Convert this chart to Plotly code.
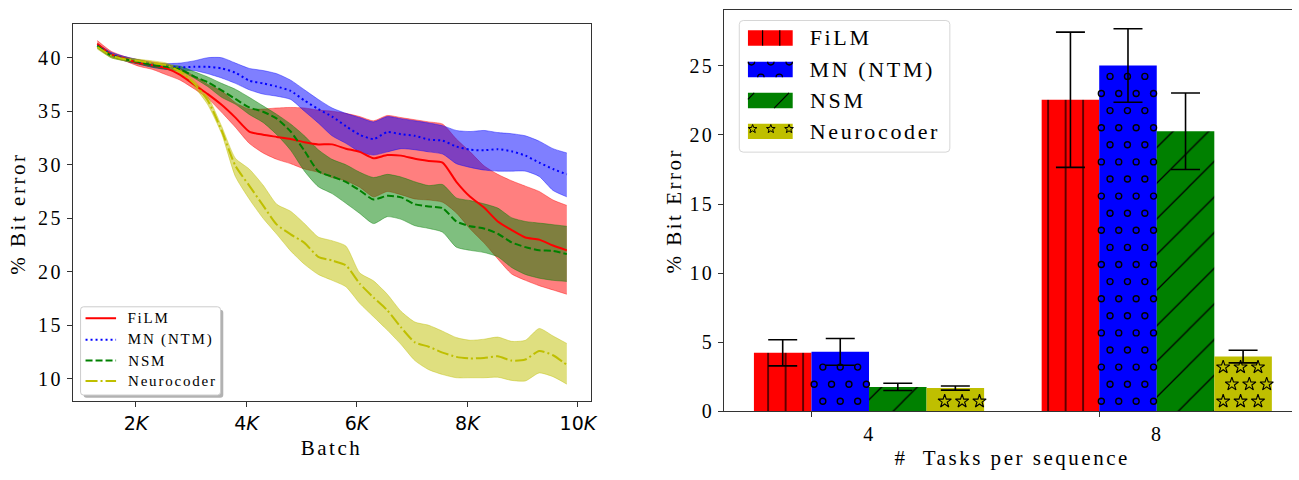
import numpy as np
import plotly.graph_objects as go

W, H = 1299, 480
SERIF = "Liberation Serif, Times New Roman, serif"
SANS = "DejaVu Sans, sans-serif"
LS = 0.12  # letter spacing (em) applied to serif texts

# ---------------- left panel data ----------------
batch = [1300, 1550, 1800, 2050, 2300, 2550, 2800, 3050, 3300, 3550, 3800, 4050,
         4300, 4550, 4800, 5050, 5300, 5550, 5800, 6050, 6300, 6550, 6800, 7050,
         7300, 7550, 7800, 8050, 8300, 8550, 8800, 9050, 9300, 9550, 9800]

film_mean = [41.3, 40.3, 39.9, 39.5, 39.3, 39.0, 38.4, 37.5, 36.6, 35.6, 34.4, 33.1,
             32.8, 32.6, 32.4, 32.1, 31.9, 31.9, 31.5, 31.2, 30.6, 30.9, 30.85, 30.55,
             30.35, 30.2, 28.4, 27.0, 26.0, 24.7, 23.9, 23.2, 23.0, 22.45, 22.0]
film_lo = [41.1, 40.1, 39.7, 39.2, 38.9, 38.4, 37.9, 37.1, 36.2, 34.9, 33.5, 32.0,
           31.1, 30.5, 30.1, 29.6, 29.3, 28.8, 28.5, 27.9, 27.0, 27.5, 27.2, 26.8,
           26.7, 26.5, 25.5, 24.0, 22.7, 21.2, 19.8, 19.2, 18.7, 18.3, 17.9]
film_hi = [41.6, 40.6, 40.1, 39.8, 39.6, 39.4, 39.0, 38.3, 37.5, 36.9, 35.8, 35.2,
           35.2, 35.3, 35.35, 35.3, 35.1, 35.0, 34.8, 34.5, 34.1, 34.6, 34.4, 34.2,
           34.0, 33.8, 32.4, 31.2, 29.9, 29.1, 28.5, 28.0, 27.5, 26.7, 26.2]

mn_mean = [41.1, 40.3, 39.9, 39.6, 39.3, 39.2, 39.1, 39.15, 39.15, 39.0, 38.6, 37.85,
           37.6, 37.3, 36.9, 36.0, 35.2, 34.5, 33.6, 32.8, 32.4, 33.05, 32.85, 32.7,
           32.35, 32.25, 31.7, 31.4, 31.35, 31.45, 31.25, 30.85, 30.2, 29.6, 29.1]
mn_lo = [40.9, 40.1, 39.7, 39.4, 39.1, 38.9, 38.8, 38.8, 38.5, 38.1, 37.6, 37.0,
         36.6, 36.4, 36.1, 35.0, 33.9, 32.7, 32.0, 31.2, 30.9, 31.2, 31.5, 31.4,
         31.2, 31.0, 30.1, 29.75, 29.5, 29.4, 29.4, 29.4, 28.9, 27.6, 27.0]
mn_hi = [41.3, 40.5, 40.1, 39.8, 39.5, 39.45, 39.5, 39.7, 40.0, 40.0, 39.5, 39.0,
         38.8, 38.5, 37.9, 37.0, 36.1, 35.3, 34.8, 34.4, 34.0, 34.5, 34.3, 34.1,
         33.9, 33.65, 33.2, 33.1, 33.2, 33.0, 32.9, 32.7, 32.2, 31.5, 31.1]

nsm_mean = [41.1, 40.2, 39.85, 39.6, 39.3, 39.15, 38.9, 38.25, 37.7, 36.95, 36.15, 35.35,
            34.95, 34.3, 33.1, 31.3, 29.4, 28.9, 28.4, 27.6, 26.75, 27.1, 26.95, 26.3,
            26.1, 25.95, 24.7, 24.25, 24.05, 23.55, 22.75, 22.3, 22.0, 21.95, 21.65]
nsm_lo = [40.9, 40.0, 39.7, 39.4, 39.1, 38.9, 38.75, 38.1, 37.3, 36.3, 35.65, 34.7,
          33.95, 32.8, 31.35, 29.4, 27.95, 27.3, 26.4, 25.45, 24.5, 25.15, 24.9, 24.3,
          24.05, 23.7, 22.3, 22.0, 21.8, 21.4, 20.4, 19.75, 19.4, 19.2, 19.1]
nsm_hi = [41.3, 40.4, 40.0, 39.8, 39.5, 39.35, 39.2, 38.7, 38.2, 37.6, 37.05, 36.3,
          35.5, 34.7, 33.8, 32.7, 31.4, 30.5, 30.0, 29.3, 28.8, 29.1, 28.85, 28.4,
          28.05, 28.15, 26.9, 26.65, 26.35, 25.95, 25.05, 24.7, 24.55, 24.4, 24.25]

neuro_mean = [41.0, 40.2, 39.85, 39.7, 39.5, 39.3, 38.7, 37.6, 36.0, 33.2, 29.9, 28.05,
              26.2, 24.4, 23.5, 22.7, 21.4, 21.05, 20.6, 18.9, 17.6, 16.4, 14.8, 13.4,
              13.0, 12.45, 12.05, 11.9, 11.95, 12.1, 11.7, 11.8, 12.6, 12.2, 11.3]
neuro_lo = [40.8, 40.0, 39.7, 39.5, 39.3, 39.1, 38.5, 37.3, 35.6, 32.9, 28.9, 26.8,
            25.0, 23.5, 21.95, 20.7, 19.75, 19.2, 18.6, 17.05, 15.8, 14.55, 13.2, 11.7,
            10.85, 10.4, 10.1, 10.1, 10.1, 10.15, 9.85, 9.8, 10.55, 10.2, 9.5]
neuro_hi = [41.2, 40.4, 40.0, 39.85, 39.7, 39.5, 38.9, 37.9, 36.4, 33.6, 30.6, 29.6,
            28.1, 26.3, 25.65, 24.5, 23.25, 22.9, 22.4, 19.9, 19.15, 17.9, 16.3, 15.3,
            15.0, 14.45, 13.85, 13.6, 13.7, 13.9, 13.5, 13.6, 14.7, 14.0, 13.3]

batch_ticks = [2000, 4000, 6000, 8000, 10000]
batch_ticktext = ["2<i>K</i>", "4<i>K</i>", "6<i>K</i>", "8<i>K</i>", "10<i>K</i>"]
err_ticks_left = [10, 15, 20, 25, 30, 35, 40]

# ---------------- right panel data ----------------
tasks = [4, 8]
models = ["FiLM", "MN (NTM)", "NSM", "Neurocoder"]
film_bar = [4.22, 22.55]
film_sd = [0.95, 4.9]
mn_bar = [4.29, 25.03]
mn_sd = [0.97, 2.66]
nsm_bar = [1.75, 20.27]
nsm_sd = [0.26, 2.77]
neuro_bar = [1.67, 3.95]
neuro_sd = [0.15, 0.46]
err_ticks_right = [0, 5, 10, 15, 20, 25]

# ---------------- geometry ----------------
def fx(x):
    return x / W


def fy(y):
    return 1 - y / H


def left_text_x(x_left, text, size):
    # annotation text is centred; compensate for the extra letter spacing
    return fx(x_left + LS * size * len(text) / 2.0)


L_X0, L_X1, L_Y0, L_Y1 = 73.3, 594.0, 24.3, 410.7
R_X0, R_X1, R_Y0, R_Y1 = 728.3, 1299.0, 10.0, 420.7
L_XRANGE = [858.0, 10234.0]
L_YRANGE = [7.90, 43.17]
R_XRANGE = [-0.1027, 1.870]
R_YRANGE = [0, 29.07]

fig = go.Figure()

line_series = [
    ("FiLM", film_mean, film_lo, film_hi, "#ff0000", "rgba(255,0,0,0.5)", "solid"),
    ("MN (NTM)", mn_mean, mn_lo, mn_hi, "#0000ff", "rgba(0,0,255,0.5)", "2px,3px"),
    ("NSM", nsm_mean, nsm_lo, nsm_hi, "#008000", "rgba(0,128,0,0.5)", "7px,3px"),
    ("Neurocoder", neuro_mean, neuro_lo, neuro_hi, "#bfbf00", "rgba(191,191,0,0.5)", "12px,3px,2px,3px"),
]

for name, m, lo, hi, c, fc, dash in line_series:
    fig.add_trace(go.Scatter(x=batch, y=lo, mode="lines", xaxis="x", yaxis="y",
                             line=dict(color=fc, width=0.8, shape="spline", smoothing=0.6),
                             showlegend=False, hoverinfo="skip"))
    fig.add_trace(go.Scatter(x=batch, y=hi, mode="lines", xaxis="x", yaxis="y",
                             fill="tonexty", fillcolor=fc,
                             line=dict(color=fc, width=0.8, shape="spline", smoothing=0.6),
                             showlegend=False, hoverinfo="skip"))
for name, m, lo, hi, c, fc, dash in line_series:
    fig.add_trace(go.Scatter(x=batch, y=m, mode="lines", name=name, xaxis="x", yaxis="y",
                             line=dict(color=c, width=2, dash=dash, shape="spline", smoothing=0.6),
                             showlegend=False))

# ---------------- bars ----------------
BAR_W = 0.2
idx = np.arange(len(tasks))
PX = (R_X1 - R_X0) / (R_XRANGE[1] - R_XRANGE[0])   # px per x unit
PY = (R_Y1 - R_Y0) / (R_YRANGE[1] - R_YRANGE[0])   # px per y unit
SX = 17.5 / PX
SY = 17.5 / PY
ROW0 = 10.0 / PY
ANCHOR = BAR_W * 1.5

bar_series = [
    (models[0], film_bar, film_sd, "#ff0000", dict(shape="|", size=17.5, solidity=0.07)),
    (models[1], mn_bar, mn_sd, "#0000ff", None),
    (models[2], nsm_bar, nsm_sd, "#008000", dict(shape="/", size=25.2, solidity=0.05)),
    (models[3], neuro_bar, neuro_sd, "#bfbf00", None),
]


def hatch_points(centers, heights, r_px):
    xs, ys = [], []
    half = BAR_W / 2
    for c, h in zip(centers, heights):
        k = 0
        while True:
            y = ROW0 + k * SY
            if y + r_px / PY > h:
                break
            off = 0.5 * (k % 2)
            j0 = int(np.floor((c - half - ANCHOR) / SX - off)) - 1
            for j in range(j0, j0 + 8):
                x = ANCHOR + (j + off) * SX
                if abs(x - c) * PX + r_px <= half * PX + 2:
                    xs.append(x)
                    ys.append(y)
            k += 1
    return xs, ys


for k, (name, vals, sd, c, pat) in enumerate(bar_series):
    xs = idx + BAR_W * (k + 0.5)
    marker = dict(color=c, line=dict(width=0))
    if pat:
        marker["pattern"] = dict(shape=pat["shape"], size=pat["size"], solidity=pat["solidity"],
                                 fgcolor="black", fgopacity=1, fillmode="overlay")
    fig.add_trace(go.Bar(x=xs, y=vals, width=BAR_W, name=name, marker=marker,
                         xaxis="x2", yaxis="y2", showlegend=False))

# hatch decorations for MN (circles) and Neurocoder (stars)
mn_x = idx + BAR_W * 1.5
cx, cy = hatch_points(mn_x, mn_bar, 3.5)
fig.add_trace(go.Scatter(x=cx, y=cy, mode="markers", xaxis="x2", yaxis="y2",
                         marker=dict(symbol="circle-open", size=6, color="black", line=dict(width=1.4)),
                         showlegend=False, hoverinfo="skip"))
ne_x = idx + BAR_W * 3.5
sx_, sy_ = hatch_points(ne_x, neuro_bar, 5.0)
fig.add_trace(go.Scatter(x=sx_, y=sy_, mode="markers", xaxis="x2", yaxis="y2",
                         marker=dict(symbol="star-open", size=10, color="black", line=dict(width=1.1)),
                         showlegend=False, hoverinfo="skip"))

# error bars on top
for k, (name, vals, sd, c, pat) in enumerate(bar_series):
    xs = idx + BAR_W * (k + 0.5)
    fig.add_trace(go.Scatter(x=xs, y=vals, mode="markers", xaxis="x2", yaxis="y2",
                             marker=dict(size=1, color="rgba(0,0,0,0)"),
                             error_y=dict(type="data", array=sd, color="black", thickness=1.6, width=14.5),
                             showlegend=False, hoverinfo="skip"))

# ---------------- custom legends ----------------
shapes = []
annotations = []


def rounded_rect(x0, y0, x1, y1, r):
    p = []
    p.append(f"M{fx(x0 + r)},{fy(y0)}")
    p.append(f"L{fx(x1 - r)},{fy(y0)}")
    p.append(f"Q{fx(x1)},{fy(y0)} {fx(x1)},{fy(y0 + r)}")
    p.append(f"L{fx(x1)},{fy(y1 - r)}")
    p.append(f"Q{fx(x1)},{fy(y1)} {fx(x1 - r)},{fy(y1)}")
    p.append(f"L{fx(x0 + r)},{fy(y1)}")
    p.append(f"Q{fx(x0)},{fy(y1)} {fx(x0)},{fy(y1 - r)}")
    p.append(f"L{fx(x0)},{fy(y0 + r)}")
    p.append(f"Q{fx(x0)},{fy(y0)} {fx(x0 + r)},{fy(y0)}Z")
    return " ".join(p)


# left legend
shapes.append(dict(type="path", xref="paper", yref="paper",
                   path=rounded_rect(84, 317, 224.5, 407, 3),
                   fillcolor="rgba(0,0,0,0.3)", line=dict(width=0), layer="above"))
shapes.append(dict(type="path", xref="paper", yref="paper",
                   path=rounded_rect(81, 314, 221.7, 404.3, 3),
                   fillcolor="white", line=dict(color="#cccccc", width=1), layer="above"))
leg_rows = [325.7, 347.7, 369.0, 390.0]
for (name, m, lo, hi, c, fc, dash), yrow in zip(line_series, leg_rows):
    shapes.append(dict(type="line", xref="paper", yref="paper", x0=fx(86), x1=fx(116.7),
                       y0=fy(yrow), y1=fy(yrow), line=dict(color=c, width=2, dash=dash), layer="above"))
    annotations.append(dict(text=name, x=left_text_x(126.5, name, 15), y=fy(yrow),
                            xref="paper", yref="paper",
                            xanchor="left", yanchor="middle", showarrow=False,
                            font=dict(family=SERIF, size=15, color="black")))

# right legend
shapes.append(dict(type="path", xref="paper", yref="paper",
                   path=rounded_rect(743.3, 21, 955, 155.7, 4),
                   fillcolor="rgba(255,255,255,0.85)", line=dict(color="#d6d6d6", width=1), layer="above"))
patch_rows = [(31.0, 46.7), (63.3, 79.0), (95.0, 110.7), (126.7, 142.3)]
PX0, PX1 = 752.0, 797.0
for (name, vals, sd, c, pat), (y0, y1) in zip(bar_series, patch_rows):
    shapes.append(dict(type="rect", xref="paper", yref="paper", x0=fx(PX0), x1=fx(PX1),
                       y0=fy(y1), y1=fy(y0), fillcolor=c, line=dict(width=0), layer="above"))
    annotations.append(dict(text=name, x=left_text_x(812, name, 22), y=fy((y0 + y1) / 2),
                            xref="paper", yref="paper",
                            xanchor="left", yanchor="middle", showarrow=False,
                            font=dict(family=SERIF, size=22, color="black")))

# FiLM patch vertical hatch
for xl in (766.7, 784.0):
    shapes.append(dict(type="line", xref="paper", yref="paper", x0=fx(xl), x1=fx(xl),
                       y0=fy(46.7), y1=fy(31.0), line=dict(color="black", width=1.2), layer="above"))


def half_circle(cx0, cyy, r, down=True):
    s = 1 if down else -1
    k = 0.5523 * r
    return (f"M{fx(cx0 - r)},{fy(cyy)} C{fx(cx0 - r)},{fy(cyy + s * k)} {fx(cx0 - k)},{fy(cyy + s * r)} "
            f"{fx(cx0)},{fy(cyy + s * r)} C{fx(cx0 + k)},{fy(cyy + s * r)} {fx(cx0 + r)},{fy(cyy + s * k)} "
            f"{fx(cx0 + r)},{fy(cyy)}")


for xc in (755.5, 775.0, 793.5):
    shapes.append(dict(type="path", xref="paper", yref="paper", path=half_circle(xc, 63.3, 3.2, True),
                       line=dict(color="black", width=1.3), layer="above"))
for xc in (765.0, 783.5):
    shapes.append(dict(type="path", xref="paper", yref="paper", path=half_circle(xc, 79.0, 3.2, False),
                       line=dict(color="black", width=1.3), layer="above"))
# NSM patch diagonal hatch
for (a, b, cc, d) in ((752.0, 101.7, 758.3, 95.0), (778.3, 110.7, 793.3, 95.0)):
    shapes.append(dict(type="line", xref="paper", yref="paper", x0=fx(a), y0=fy(b), x1=fx(cc), y1=fy(d),
                       line=dict(color="black", width=1.2), layer="above"))


def star_path(cx0, cyy, ro, ri):
    pts = []
    for i in range(10):
        ang = -np.pi / 2 + i * np.pi / 5
        rr = ro if i % 2 == 0 else ri
        pts.append((cx0 + rr * np.cos(ang), cyy + rr * np.sin(ang)))
    s = "M" + " L".join(f"{fx(a)},{fy(b)}" for a, b in pts) + " Z"
    return s


for xc in (756.7, 775.0, 793.3):
    shapes.append(dict(type="path", xref="paper", yref="paper", path=star_path(xc, 132.0, 4.6, 1.9),
                       line=dict(color="black", width=1.0), layer="above"))

# axis titles
TF = dict(family=SERIF, size=21, color="black")
annotations += [
    dict(text="% Bit error", x=fx(18), y=fy(219), xref="paper", yref="paper", textangle=-90,
         xanchor="center", yanchor="middle", showarrow=False, font=TF),
    dict(text="Batch", x=fx(333), y=fy(458), xref="paper", yref="paper",
         xanchor="center", yanchor="middle", showarrow=False, font=TF),
    dict(text="% Bit Error", x=fx(677.3), y=fy(216), xref="paper", yref="paper", textangle=-90,
         xanchor="center", yanchor="middle", showarrow=False, font=TF),
    dict(text="#  Tasks per sequence", x=fx(1017.3), y=fy(468.3), xref="paper", yref="paper",
         xanchor="center", yanchor="middle", showarrow=False, font=TF),
]

SPINE = "#333333"
common_axis = dict(showgrid=False, zeroline=False, showline=True, linecolor=SPINE, linewidth=1.2,
                   ticks="outside", ticklen=5, tickwidth=1.1, tickcolor=SPINE)

fig.update_layout(
    width=W, height=H, autosize=False,
    margin=dict(l=0, r=0, t=0, b=0),
    paper_bgcolor="white", plot_bgcolor="white",
    barmode="overlay", showlegend=False,
    xaxis=dict(domain=[fx(L_X0), fx(L_X1)], range=L_XRANGE, anchor="y", mirror=True,
               tickvals=batch_ticks, ticktext=batch_ticktext,
               tickfont=dict(family=SANS, size=19, color="black"), **common_axis),
    yaxis=dict(domain=[fy(L_Y1), fy(L_Y0)], range=L_YRANGE, anchor="x", mirror=True,
               tickvals=err_ticks_left, ticktext=[str(v) for v in err_ticks_left],
               tickfont=dict(family=SERIF, size=20, color="black"), **common_axis),
    xaxis2=dict(domain=[fx(R_X0), 1.0], range=R_XRANGE, anchor="y2", mirror=True,
                tickvals=list(idx + BAR_W), ticktext=[str(t) for t in tasks],
                ticklabelshift=round(BAR_W * PX),
                tickfont=dict(family=SERIF, size=20, color="black"), **common_axis),
    yaxis2=dict(domain=[fy(R_Y1), fy(R_Y0)], range=R_YRANGE, anchor="x2", mirror=False,
                tickvals=err_ticks_right, ticktext=[str(v) for v in err_ticks_right],
                tickfont=dict(family=SERIF, size=20, color="black"), **common_axis),
    shapes=shapes,
    annotations=annotations,
)

css = ".ytick text,.y2tick text,.x2tick text,.annotation-text{letter-spacing:%.2fem}" % LS
post = "var s=document.createElement('style');s.textContent='" + css + "';document.head.appendChild(s);"
fig.write_html("out.html", post_script=post)
